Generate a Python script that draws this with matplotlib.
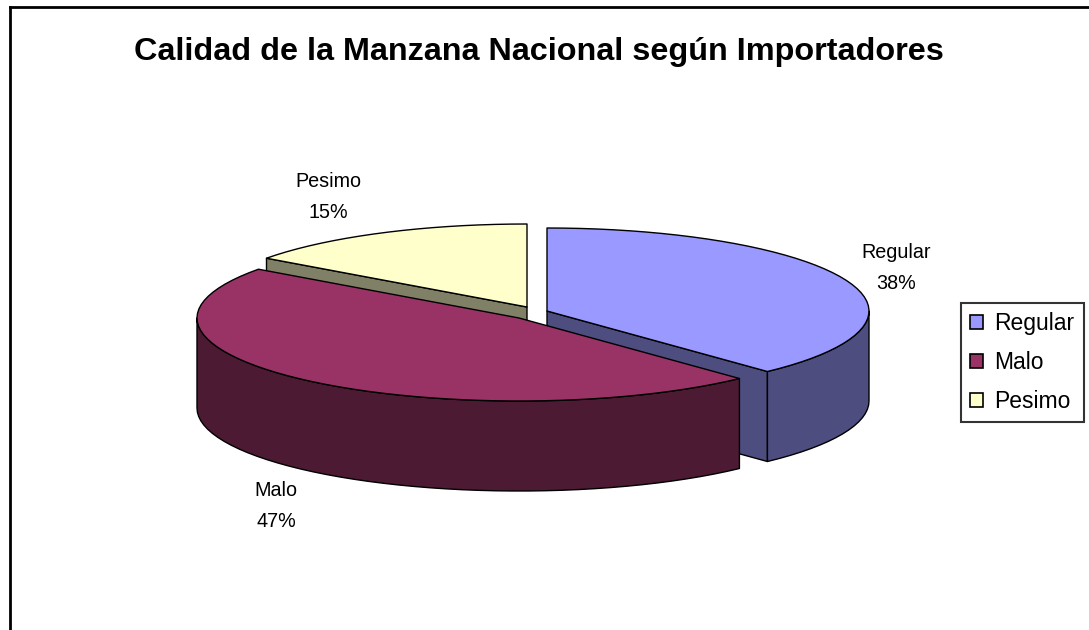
import numpy as np
import matplotlib
matplotlib.use("Agg")
import matplotlib.pyplot as plt
from matplotlib.patches import Polygon, Patch

# datos
categorias = ["Regular", "Malo", "Pesimo"]
porcentajes = [38, 47, 15]
titulo = "Calidad de la Manzana Nacional según Importadores"

# estilo
col_sup = ["#9999FF", "#993366", "#FFFFCC"]
col_lat = ["#4D4D80", "#4D1A33", "#808066"]
plt.rcParams["font.family"] = ["Liberation Sans", "DejaVu Sans"]

# geometría del pastel 3D, en píxeles de la figura
CX, CY = 519, 318
A, B, H = 322, 83, 90
desplaz = [(28, -7), (0, 0), (8, -11)]
pos_etiq = [(896, 268), (276, 506), (328, 197)]


def borde(cx, cy, t):
    # t en grados, sentido horario desde las 12
    r = np.radians(t)
    return cx + A * np.sin(r), cy - B * np.cos(r)


def arco(cx, cy, t1, t2, n=120):
    ts = np.linspace(t1, t2, max(2, int(n * (t2 - t1) / 360) + 2))
    x, y = borde(cx, cy, ts)
    return list(zip(x, y))


fig = plt.figure(figsize=(10.89, 6.30), dpi=100)
ax = fig.add_axes([0, 0, 1, 1])
ax.set_xlim(0, 1089)
ax.set_ylim(630, 0)
ax.axis("off")

tot = sum(porcentajes)
lim = np.concatenate([[0], np.cumsum(porcentajes) / tot * 360])
kw = dict(edgecolor="black", linewidth=1, joinstyle="round")

for i in [2, 0, 1]:  # de atrás hacia delante
    t1, t2 = lim[i], lim[i + 1]
    cx, cy = CX + desplaz[i][0], CY + desplaz[i][1]
    # caras radiales visibles
    for t, vis in [(t1, np.sin(np.radians(t1)) < -1e-9), (t2, np.sin(np.radians(t2)) > 1e-9)]:
        if vis:
            px, py = borde(cx, cy, t)
            ax.add_patch(Polygon([(cx, cy), (px, py), (px, py + H), (cx, cy + H)],
                                 facecolor=col_lat[i], **kw))
    # lateral curvo (mitad delantera)
    lo, hi = max(t1, 90), min(t2, 270)
    if hi > lo:
        sup = arco(cx, cy, lo, hi)
        inf = [(x, y + H) for x, y in sup[::-1]]
        ax.add_patch(Polygon(sup + inf, facecolor=col_lat[i], **kw))
    # cara superior
    ax.add_patch(Polygon([(cx, cy)] + arco(cx, cy, t1, t2), facecolor=col_sup[i], **kw))

for i, (x, y) in enumerate(pos_etiq):
    ax.text(x, y, f"{categorias[i]}\n{porcentajes[i]}%", ha="center", va="center",
            fontsize=14.2, linespacing=1.75)

ax.text(539, 60, titulo, ha="center", va="baseline", fontsize=23.3, fontweight="bold")

# marco del gráfico
ax.plot([10, 10], [630, 7], color="black", lw=2, solid_capstyle="projecting")
ax.plot([10, 1089], [7, 7], color="black", lw=2, solid_capstyle="projecting")

handles = [Patch(facecolor=c, edgecolor="black", linewidth=1.2) for c in col_sup]
leg = fig.legend(handles, categorias, loc="upper left", bbox_to_anchor=(961 / 1089, 1 - 303 / 630),
                 borderaxespad=0, fontsize=16.5, frameon=True, fancybox=False,
                 handlelength=0.55, handleheight=0.55, handletextpad=0.5,
                 labelspacing=0.7, borderpad=0.4)
leg.get_frame().set_edgecolor("black")
leg.get_frame().set_linewidth(1.5)

fig.savefig("out.png", dpi=100)
